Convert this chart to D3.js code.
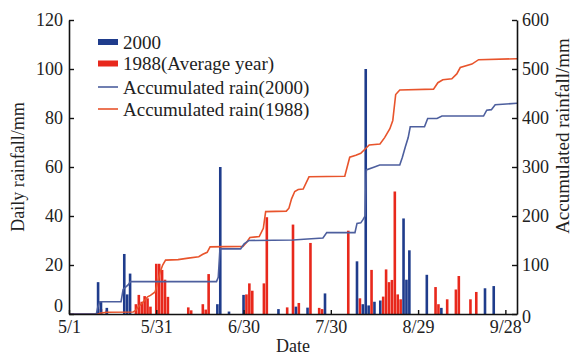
<!DOCTYPE html>
<html>
<head>
<meta charset="utf-8">
<script src="https://cdn.jsdelivr.net/npm/d3@7"></script>
<style>
  body { margin: 0; background: #fff; }
  svg { display: block; }
  text { font-family: "Liberation Serif", "Times New Roman", serif; fill: #222; }
</style>
</head>
<body>
<div id="chart-area"></div>
<script>
// daily rainfall (day index from 5/1)
const days2000 = [10, 11, 13, 19, 20, 21, 51, 52, 55, 60, 72, 78, 82, 88, 99, 101, 102, 103, 105, 107, 115, 116, 117, 123, 128, 143, 146];
const rain2000 = [13, 5, 2.5, 24.5, 8, 16.5, 4, 60, 1, 7.8, 2, 3, 2.6, 8.4, 21.5, 4, 100, 3.5, 5, 5.5, 39, 14, 26, 16, 2.5, 10.5, 11.4];

const days1988 = [11, 13, 23, 24, 25, 26, 27, 28, 30, 31, 32, 33, 34, 41, 42, 46, 47, 48, 61, 62, 63, 67, 68, 75, 77, 79, 83, 86, 87, 96, 100, 104, 108, 109, 110, 111, 112, 113, 114, 126, 127, 130, 133, 134, 138, 140];
const rain1988 = [2, 1.5, 4, 7.8, 5, 7.3, 6.4, 3, 20.5, 20.5, 18, 14, 7, 2.7, 1.5, 4, 1.8, 16.3, 8, 12.5, 9.5, 12.5, 39.5, 2.7, 36.5, 4.5, 29, 2.5, 2, 34, 6.4, 18, 7.1, 18.2, 13, 13.9, 50, 8, 6, 11, 4, 6, 10, 15.5, 6, 9];

// accumulated rain, points
const accDays2000 = [0, 9.4, 9.9, 10.6, 17.9, 18.6, 20.4, 21.1, 50.7, 51.3, 51.9, 59, 60.2, 61.8, 77, 82, 87.3, 88.6, 98.3, 99, 100.3, 101, 101.8, 102.2, 105, 106.8, 113.7, 114.6, 115.6, 116.6, 117.3, 122.2, 123.3, 126.5, 128.2, 142.5, 143.6, 145.2, 146.5, 154];
const accRain2000 = [0, 0, 14, 25, 25, 50, 60, 66, 66, 75, 133, 133, 143, 150, 151, 153, 155, 166, 166, 185, 186, 192, 200, 294, 300, 304, 304, 320, 341, 360, 382, 382, 399, 399, 404, 404, 416, 417, 427, 430];

const accDays1988 = [0, 10, 11, 13, 22, 23, 24, 25, 26, 27, 28, 29.6, 30.5, 31.3, 32.2, 33.2, 37.5, 41, 44.6, 46, 47.5, 48.5, 59.8, 61, 62.2, 65.4, 66.8, 67.6, 74.7, 75.6, 76.5, 77.6, 78.8, 80.5, 82.5, 94.8, 96.5, 98.6, 100.3, 103.2, 106.9, 108.5, 110.3, 111.3, 112.3, 113.7, 125.3, 126.8, 128.5, 131.6, 133.3, 134.5, 138.5, 140.8, 154];
const accRain1988 = [0, 0, 2, 3.5, 4, 8, 16, 21, 28, 35, 38, 45, 65, 85, 100, 110, 111, 114, 117, 122, 126, 137, 138, 146, 156, 158, 175, 209, 210, 216, 235, 250, 254, 255, 280, 281, 320, 324, 328, 345, 347, 360, 378, 395, 448, 457, 459, 472, 478, 480, 490, 503, 510, 519, 521];

const tickDays = [0, 30, 60, 90, 120, 150];
const tickLabels = ["5/1", "5/31", "6/30", "7/30", "8/29", "9/28"];
const leftTicks = [0, 20, 40, 60, 80, 100, 120];
const rightTicks = [0, 100, 200, 300, 400, 500, 600];

const BLUE = "#1f3c8c", RED = "#e8281c";
const BLUE_LINE = "#4d5f9e", RED_LINE = "#e8542c";

const width = 574, height = 356;
const svg = d3.select("#chart-area").append("svg")
    .attr("width", width)
    .attr("height", height);

const x = d3.scaleLinear().domain([0, 154]).range([69, 517]);
const yL = d3.scaleLinear().domain([0, 120]).range([314, 20]);
const yR = d3.scaleLinear().domain([0, 600]).range([314, 20]);

const barW = 2.6;

// bars: 1988 underneath, 2000 on top
svg.append("g").selectAll("rect")
    .data(days1988.map((d, i) => ({day: d, v: rain1988[i]})))
    .join("rect")
    .attr("x", d => x(d.day) - barW / 2)
    .attr("width", barW)
    .attr("y", d => yL(d.v))
    .attr("height", d => yL(0) - yL(d.v))
    .attr("fill", RED);

svg.append("g").selectAll("rect")
    .data(days2000.map((d, i) => ({day: d, v: rain2000[i]})))
    .join("rect")
    .attr("x", d => x(d.day) - barW / 2)
    .attr("width", barW)
    .attr("y", d => yL(d.v))
    .attr("height", d => yL(0) - yL(d.v))
    .attr("fill", BLUE);

// accumulated lines
const line = d3.line().x(d => x(d[0])).y(d => yR(d[1]));
svg.append("path")
    .datum(accDays1988.map((d, i) => [d, accRain1988[i]]))
    .attr("d", line)
    .attr("fill", "none")
    .attr("stroke", RED_LINE)
    .attr("stroke-width", 1.6);
svg.append("path")
    .datum(accDays2000.map((d, i) => [d, accRain2000[i]]))
    .attr("d", line)
    .attr("fill", "none")
    .attr("stroke", BLUE_LINE)
    .attr("stroke-width", 1.6);

// axes
function styleAxis(g) {
    g.selectAll("path.domain").attr("stroke", "#111").attr("stroke-width", 1.6);
    g.selectAll(".tick line").attr("stroke", "#111").attr("stroke-width", 1.4);
    g.selectAll(".tick text")
        .attr("font-family", "Liberation Serif, serif")
        .attr("font-size", "18px")
        .attr("fill", "#222");
}

const gL = svg.append("g")
    .attr("transform", `translate(${x(0)},0)`)
    .call(d3.axisLeft(yL).tickValues(leftTicks).tickSize(-5).tickSizeOuter(0).tickPadding(6))
    .call(styleAxis);
gL.selectAll(".tick text").filter(d => d === 0).attr("dy", "-0.15em");

const gR = svg.append("g")
    .attr("transform", `translate(${x(154)},0)`)
    .call(d3.axisRight(yR).tickValues(rightTicks).tickSize(-5).tickSizeOuter(0).tickPadding(5))
    .call(styleAxis);
gR.selectAll(".tick text").filter(d => d === 0).attr("dy", "0.45em");

const gB = svg.append("g")
    .attr("transform", `translate(0,${yL(0)})`)
    .call(d3.axisBottom(x).tickValues(tickDays).tickFormat((d, i) => tickLabels[i])
        .tickSize(-4).tickSizeOuter(0).tickPadding(6))
    .call(styleAxis);

// axis titles
function addLabel(label, tx, ty, rotated, size) {
    let t = svg.append("text")
        .attr("font-size", `${size}px`)
        .attr("text-anchor", "middle")
        .attr("transform", `translate(${tx},${ty})` + (rotated ? " rotate(-90)" : ""));
    return t.text(label);
}
addLabel("Daily rainfall/mm", 24, 167, true, 18);
addLabel("Accumulated rainfall/mm", 569, 136, true, 19);
addLabel("Date", 293, 352, false, 18);

// legend
const legend = svg.append("g").attr("transform", "translate(98,0)");
const legendItems = [
    {label: "2000", kind: "rect", color: BLUE, y: 42},
    {label: "1988(Average year)", kind: "rect", color: RED, y: 63.5},
    {label: "Accumulated rain(2000)", kind: "line", color: BLUE_LINE, y: 87},
    {label: "Accumulated rain(1988)", kind: "line", color: RED_LINE, y: 109}
];
legendItems.forEach(it => {
    if (it.kind === "rect") {
        legend.append("rect").attr("x", 0).attr("y", it.y - 3).attr("width", 20).attr("height", 6).attr("fill", it.color);
    } else {
        legend.append("line").attr("x1", 0).attr("x2", 20).attr("y1", it.y).attr("y2", it.y)
            .attr("stroke", it.color).attr("stroke-width", 1.6);
    }
    legend.append("text")
        .attr("x", 25)
        .attr("y", it.y)
        .attr("dy", "0.35em")
        .attr("font-size", "19px")
        .text(it.label);
});
</script>
</body>
</html>
